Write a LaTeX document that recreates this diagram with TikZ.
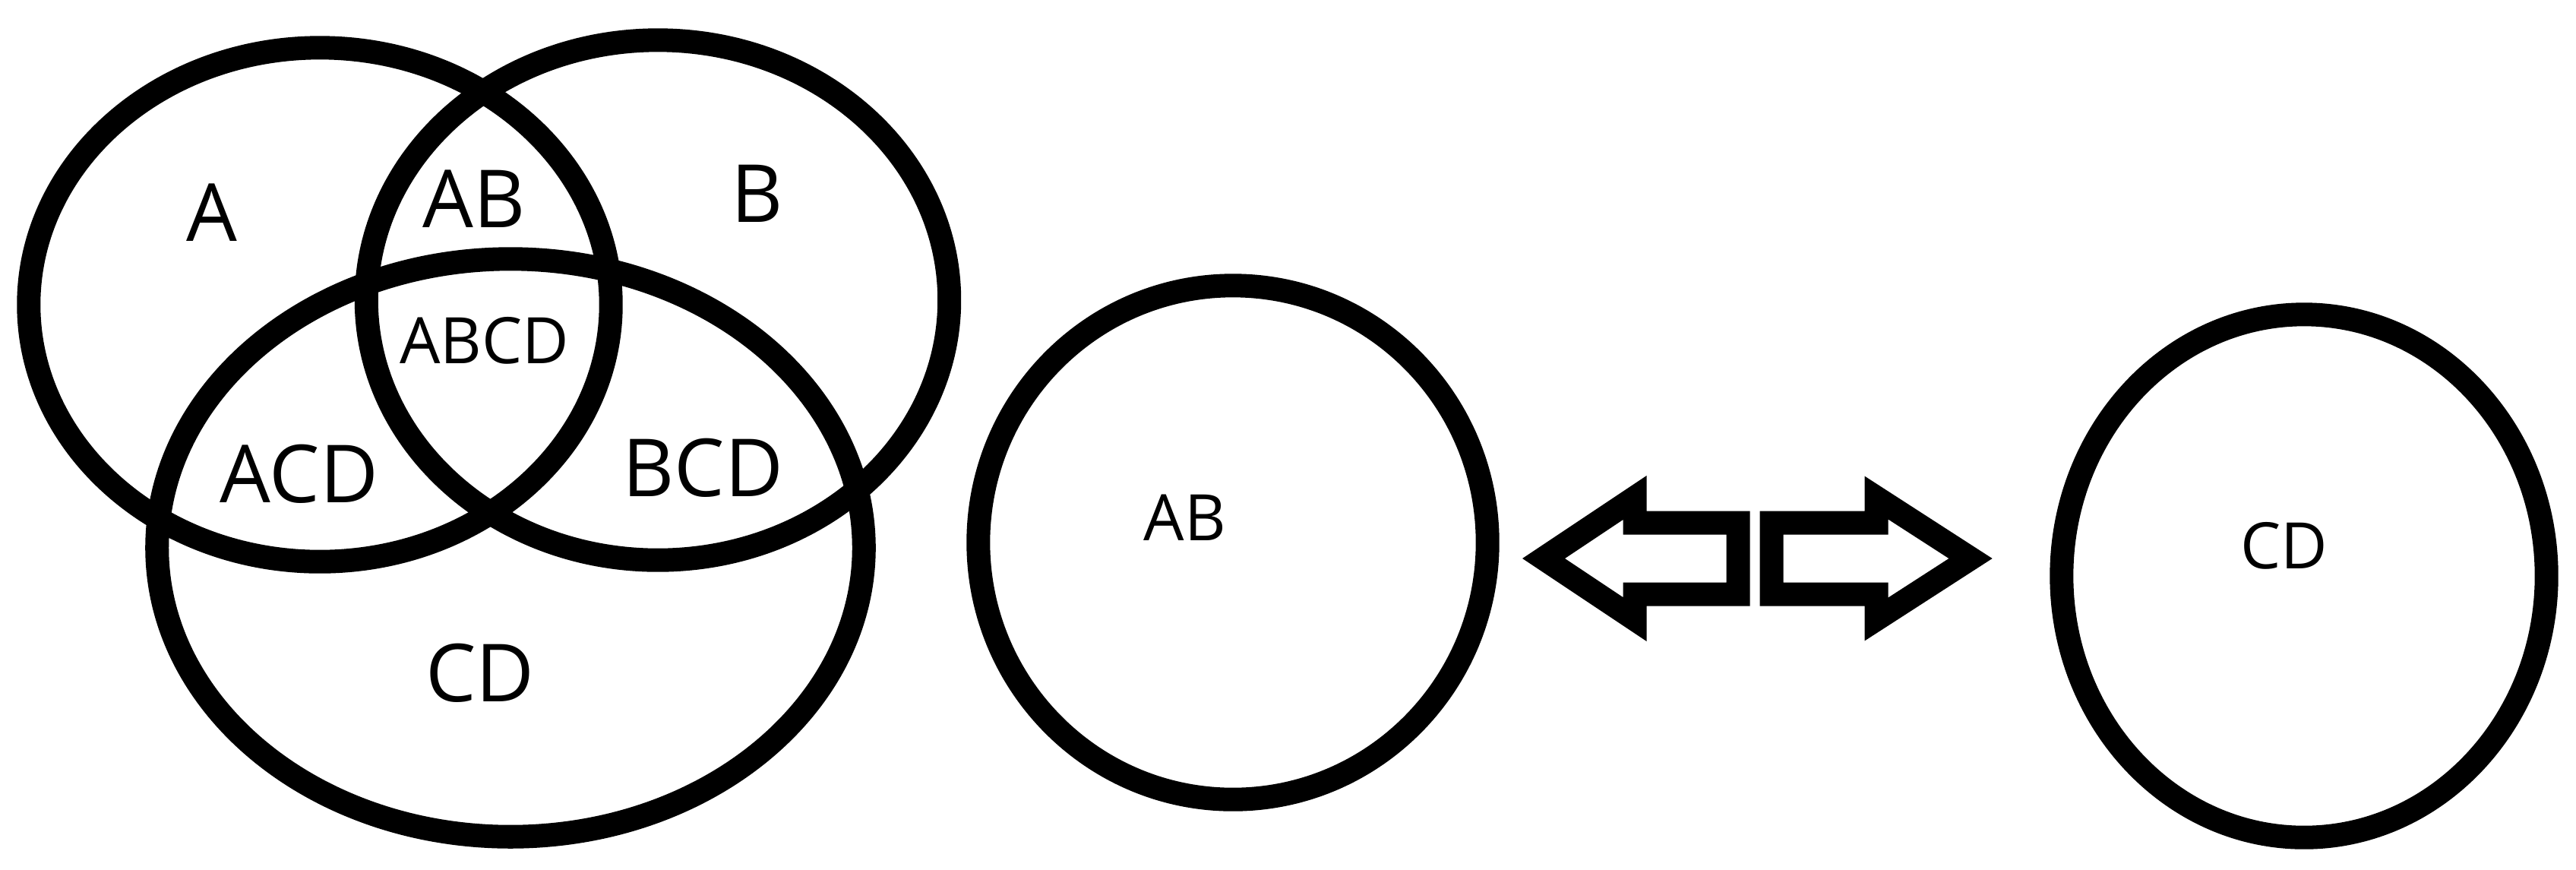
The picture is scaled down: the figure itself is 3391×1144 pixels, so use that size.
\documentclass[tikz,border=0pt]{standalone}
\usepackage{fontspec}
\setmainfont{Open Sans}
\usetikzlibrary{shapes.geometric}
\begin{document}
\begin{tikzpicture}[
  x=0.01cm, y=-0.01cm,
  vset/.style={draw=black, line width=0.31cm, ellipse, inner sep=0pt, outer sep=0pt},
  biglab/.style={anchor=base, inner sep=0pt, font=\fontsize{30}{36}\selectfont},
  smalllab/.style={anchor=base, inner sep=0pt, font=\fontsize{24}{29}\selectfont},
  bigarrow/.style={draw=black, line width=0.31cm, line join=miter, miter limit=10}
]
\useasboundingbox (0,0) rectangle (3391,1144);
% Venn diagram
\node[vset, minimum width=7.66cm, minimum height=6.76cm] (setA) at (421,401) {};
\node[vset, minimum width=7.67cm, minimum height=6.84cm] (setB) at (866,395) {};
\node[vset, minimum width=9.30cm, minimum height=7.60cm] (setC) at (672,721) {};
\node[biglab] (lA) at (279,317) {A};
\node[biglab] (lAB) at (624,299) {AB};
\node[biglab] (lB) at (997,292) {B};
\node[smalllab] (lABCD) at (638,478) {ABCD};
\node[biglab] (lACD) at (394,661) {ACD};
\node[biglab] (lBCD) at (925,653) {BCD};
\node[biglab] (lCD) at (632,923) {CD};
% circles
\node[vset, minimum width=6.70cm, minimum height=6.76cm] (cAB) at (1623,714) {};
\node[smalllab] (tAB) at (1560,711) {AB};
\node[vset, minimum width=6.38cm, minimum height=6.88cm] (cCD) at (3033,758) {};
\node[smalllab] (tCD) at (3007,748) {CD};
% arrows
\draw[bigarrow] (2032,735) -- (2152,655) -- (2152,688) -- (2288,688) -- (2288,782) -- (2152,782) -- (2152,815) -- cycle;
\draw[bigarrow] (2594,735) -- (2470,655) -- (2470,688) -- (2332,688) -- (2332,782) -- (2470,782) -- (2470,815) -- cycle;
\end{tikzpicture}
\end{document}
